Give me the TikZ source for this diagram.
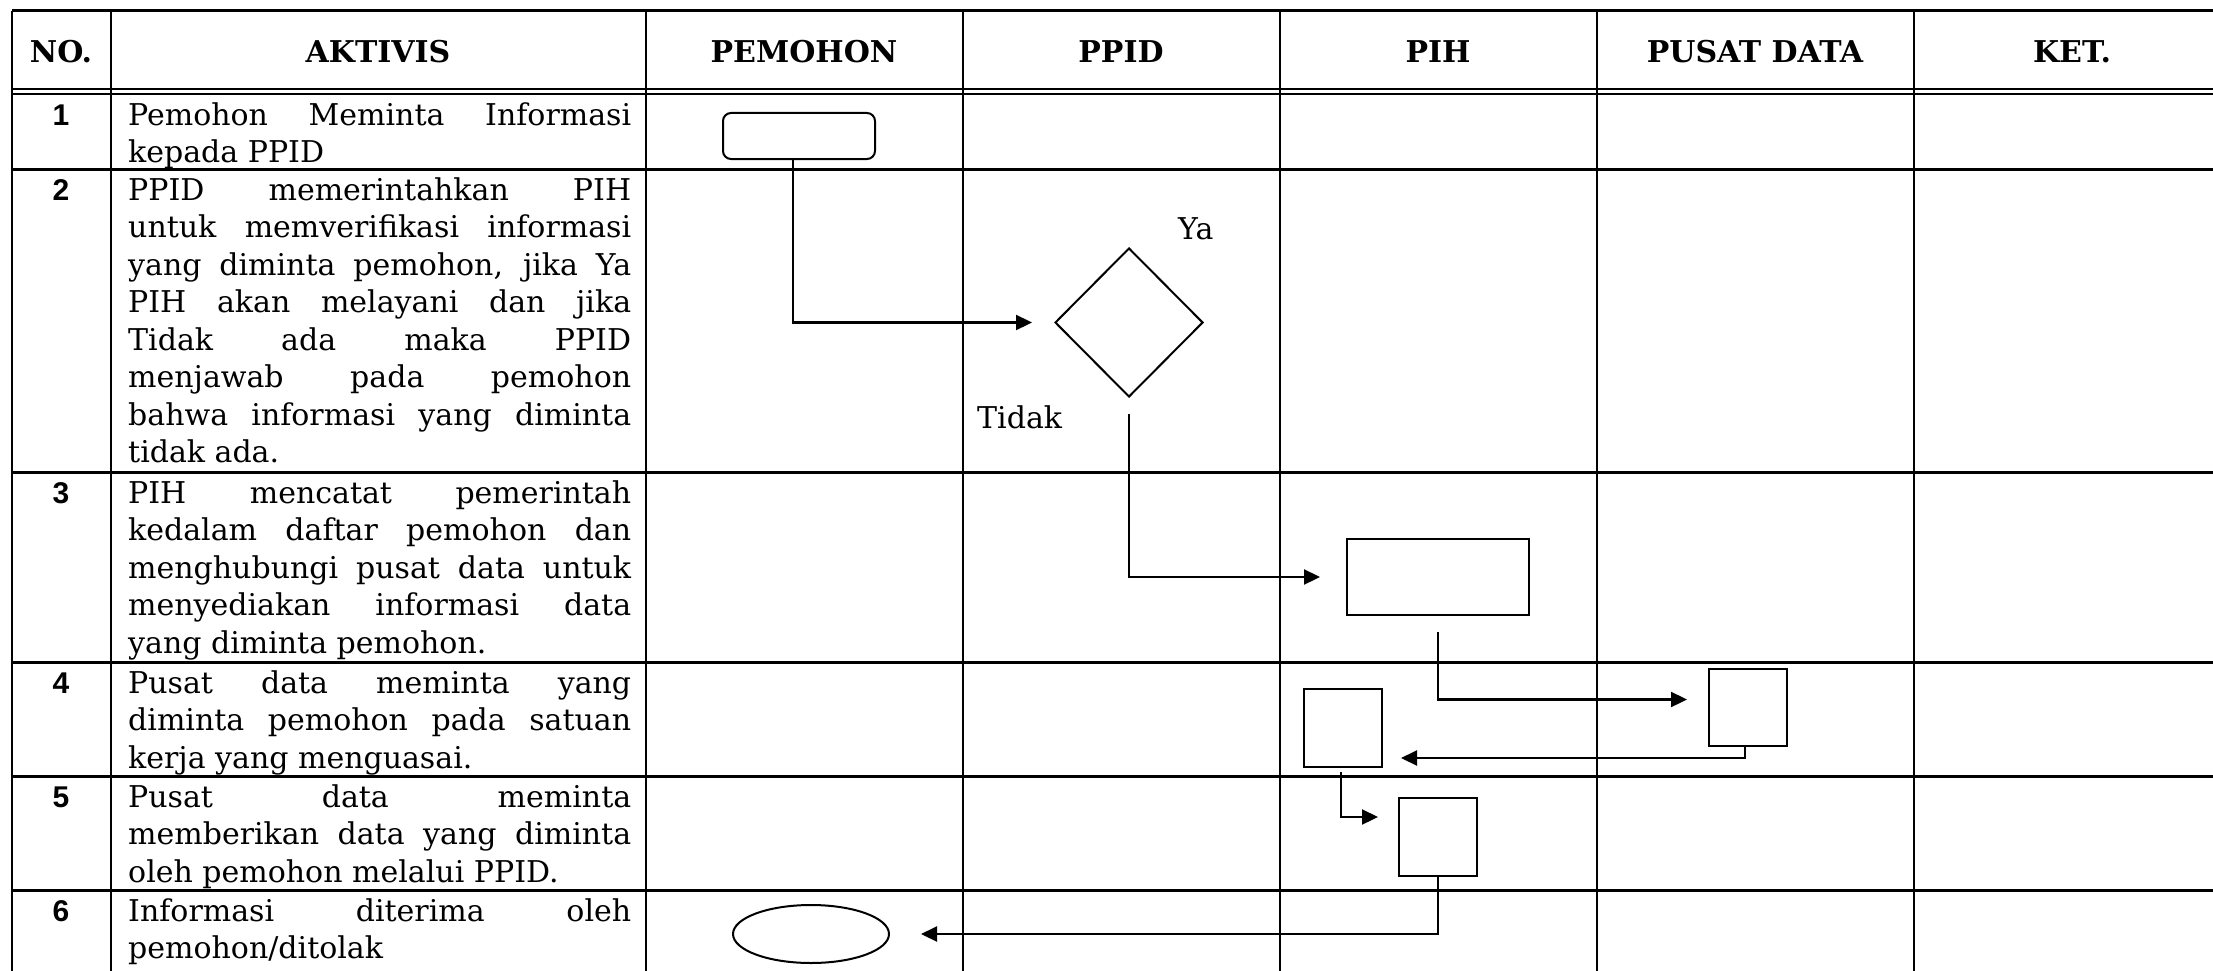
\documentclass[tikz,border=0pt]{standalone}
\usepackage{fontspec}
\setmainfont{DejaVu Serif}
\newfontfamily\numfont{Liberation Sans}
\usetikzlibrary{arrows.meta, shapes.geometric}
\newcommand{\cellfont}{\fontsize{30pt}{37.5pt}\selectfont}
\tolerance=9999
\hbadness=10000

\begin{document}
\begin{tikzpicture}[
  x=1pt, y=-1pt,
  tbl/.style={line width=2.2pt},
  tblrow/.style={line width=3pt},
  hdr/.style={font=\cellfont\bfseries, anchor=base, inner sep=0pt},
  num/.style={font=\cellfont\numfont\bfseries, anchor=base, inner sep=0pt},
  txt/.style={font=\cellfont, anchor=base west, inner sep=0pt,
              text width=503pt, align=justify},
  lbl/.style={font=\cellfont, anchor=base west, inner sep=0pt},
  box/.style={draw, line width=2pt, inner sep=0pt},
  arr/.style={-{Triangle[length=16pt, width=15pt]}, line width=2.2pt},
]
\useasboundingbox (0,0) rectangle (2213,971);

% ── Table ────────────────────────────────────────────────────
\draw[tblrow] (12,11) -- (2213,11);
\draw[tbl] (12,89) -- (2213,89) (12,94) -- (2213,94);
\draw[tblrow] (12,169) -- (2213,169) (12,472) -- (2213,472)
  (12,662) -- (2213,662) (12,776) -- (2213,776) (12,890) -- (2213,890);
\draw[tbl] (12,11) -- (12,971) (111,11) -- (111,971)
  (646,11) -- (646,971) (963,11) -- (963,971) (1280,11) -- (1280,971)
  (1597,11) -- (1597,971) (1914,11) -- (1914,971);

% ── Header ───────────────────────────────────────────────────
\node[hdr] (hno)   at (61,63)   {NO.};
\node[hdr] (hakt)  at (378,63)  {AKTIVIS};
\node[hdr] (hpem)  at (804,63)  {PEMOHON};
\node[hdr] (hppid) at (1121,63) {PPID};
\node[hdr] (hpih)  at (1438,63) {PIH};
\node[hdr] (hpd)   at (1755,63) {PUSAT DATA};
\node[hdr] (hket)  at (2072,63) {KET.};

% ── Rows ─────────────────────────────────────────────────────
\node[num] (n1) at (61,125) {1};
\node[txt] (t1) at (128,125)
  {Pemohon Meminta Informasi\linebreak kepada PPID};

\node[num] (n2) at (61,200) {2};
\node[txt] (t2) at (128,200)
  {PPID memerintahkan PIH\linebreak untuk memverifikasi informasi\linebreak
   yang diminta pemohon, jika Ya\linebreak PIH akan melayani dan jika\linebreak
   Tidak ada maka PPID\linebreak menjawab pada pemohon\linebreak
   bahwa informasi yang diminta\linebreak tidak ada.};

\node[num] (n3) at (61,503) {3};
\node[txt] (t3) at (128,503)
  {PIH mencatat pemerintah\linebreak kedalam daftar pemohon dan\linebreak
   menghubungi pusat data untuk\linebreak menyediakan informasi data\linebreak
   yang diminta pemohon.};

\node[num] (n4) at (61,693) {4};
\node[txt] (t4) at (128,693)
  {Pusat data meminta yang\linebreak diminta pemohon pada satuan\linebreak
   kerja yang menguasai.};

\node[num] (n5) at (61,807) {5};
\node[txt] (t5) at (128,807)
  {Pusat data meminta\linebreak memberikan data yang diminta\linebreak
   oleh pemohon melalui PPID.};

\node[num] (n6) at (61,921) {6};
\node[txt] (t6) at (128,921)
  {Informasi diterima oleh\linebreak pemohon/ditolak};

% ── Flow ─────────────────────────────────────────────────────
\node[box, rounded corners=8pt, minimum width=152pt, minimum height=46pt]
  (start) at (799,136) {};
\node[box, diamond, minimum width=148pt, minimum height=149pt]
  (dia) at (1129,322.5) {};
\node[lbl] (ya)    at (1178,239) {Ya};
\node[lbl] (tidak) at (977,428)  {Tidak};

\node[box, minimum width=182pt, minimum height=76pt] (pih1) at (1438,577) {};
\node[box, minimum width=78pt, minimum height=77pt]  (pd)   at (1748,707.5) {};
\node[box, minimum width=78pt, minimum height=78pt]  (pih2) at (1343,728) {};
\node[box, minimum width=78pt, minimum height=78pt]  (pih3) at (1438,837) {};
\node[box, ellipse, minimum width=156pt, minimum height=58pt]
  (fin) at (811,934) {};

\draw[arr, shorten >=22pt] ([xshift=-6pt]start.south) |- (dia.west);
\draw[arr, shorten <=16pt, shorten >=26pt] (dia.south) |- (pih1.west);
\draw[arr, shorten <=16pt, shorten >=21pt] (pih1.south) |- ([yshift=8pt]pd.west);
\draw[arr] ([xshift=-3pt]pd.south) |- ([xshift=18pt, yshift=-30pt]pih2.east);
\draw[arr, shorten <=4pt] ([xshift=-2pt]pih2.south)
  |- ([xshift=-20pt, yshift=20pt]pih3.west);
\draw[arr, shorten >=31pt] (pih3.south) |- (fin.east);

\end{tikzpicture}
\end{document}
